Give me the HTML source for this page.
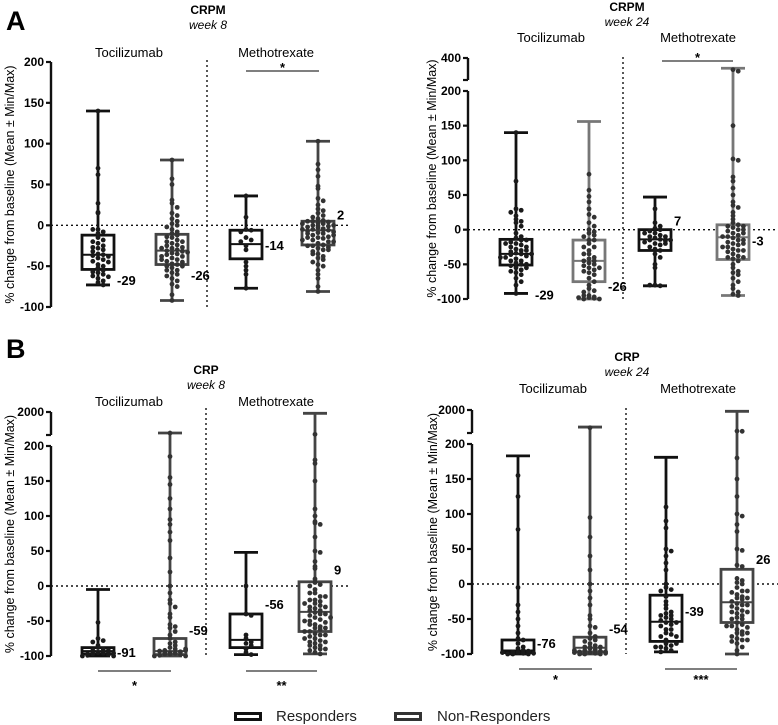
<!DOCTYPE html>
<html><head><meta charset="utf-8"><style>
body{margin:0;background:#fff}
svg{display:block;font-family:"Liberation Sans",sans-serif}
</style></head><body>
<svg id="chart" width="778" height="725" viewBox="0 0 778 725"></svg>
<script>
// ---------- data ----------
const groupNames = ["Responders Tocilizumab","Non-Responders Tocilizumab","Responders Methotrexate","Non-Responders Methotrexate"];
// box stats [min,q1,median,q3,max]
const a1Boxes = [[-73,-54,-36,-12,140],[-92,-48,-31,-11,80],[-77,-41,-23,-6,36],[-81,-24,-6,5,103]];
const a1Means = ["-29","-26","-14","2"];
const a1LabelVals = [-68,-62,-25,12];
const a1Points = [
 [140,70,62,27,16,15,-5,-8,-15,-18,-20,-22,-25,-27,-28,-30,-32,-35,-36,-37,-38,-40,-42,-44,-45,-48,-50,-52,-55,-57,-58,-60,-62,-63,-65,-68,-70,-73,-5,-10],
 [80,57,50,31,27,22,15,12,8,5,2,0,-2,-5,-8,-10,-12,-14,-15,-18,-20,-22,-24,-25,-27,-28,-30,-31,-32,-34,-35,-36,-38,-40,-42,-44,-45,-47,-48,-50,-52,-55,-58,-60,-62,-65,-68,-72,-75,-85,-92,-20,-28,-33,-38,-42,-50,-55],
 [36,10,-5,-6,-8,-15,-18,-20,-25,-30,-45,-50,-55,-60,-77],
 [103,75,68,60,48,45,33,30,25,20,18,15,12,10,8,6,5,4,3,2,0,-1,-2,-3,-4,-5,-6,-7,-8,-9,-10,-12,-14,-15,-16,-18,-20,-22,-24,-25,-27,-28,-30,-32,-35,-38,-40,-42,-45,-48,-50,-55,-60,-65,-75,-81,0,-5,-10,-15,-20,5,2,-3,-8,-12,-18,-25,-30,-35]
];
const a2Boxes = [[-92,-51,-35,-14,140],[-100,-75,-45,-15,156],[-81,-30,-14,0,47],[-95,-43,-11,7,330]];
const a2Means = ["-29","-26","7","-3"];
const a2LabelVals = [-95,-83,12,-17];
const a2Points = [
 [140,70,30,28,25,20,15,12,10,5,-5,-10,-12,-15,-18,-20,-22,-25,-28,-30,-32,-34,-35,-36,-38,-40,-42,-45,-48,-50,-52,-55,-58,-60,-62,-65,-70,-75,-80,-92,-15,-25,-35,-45,-55,-20,-30,-40,-50],
 [80,57,48,40,30,22,18,10,5,0,-3,-5,-8,-10,-15,-20,-25,-30,-35,-40,-42,-45,-48,-50,-52,-55,-58,-60,-62,-65,-70,-75,-80,-85,-88,-90,-95,-97,-98,-99,-100,-100,-98,-95,-45,-55,-35,-25,-15],
 [30,10,5,2,0,-2,-5,-8,-10,-12,-14,-15,-16,-18,-20,-22,-25,-28,-30,-35,-40,-50,-55,-80,-81,-80,-10,-5,-15,-20],
 [320,310,150,102,100,76,70,60,50,40,35,32,25,20,15,10,7,5,3,0,-2,-5,-8,-10,-12,-15,-18,-20,-22,-25,-28,-30,-32,-35,-38,-40,-42,-45,-50,-55,-60,-62,-65,-70,-75,-80,-85,-90,-93,-95,0,-5,-10,-15,-20,-30,-40,5,-25]
];
const b1Boxes = [[-100,-97,-93,-88,-5],[-100,-98,-93,-75,400],[-98,-88,-77,-40,48],[-97,-65,-37,6,1900]];
const b1Means = ["-91","-59","-56","9"];
const b1LabelVals = [-96,-64,-27,22];
const b1Points = [
 [-52,-75,-78,-80,-85,-88,-90,-92,-94,-95,-96,-97,-98,-99,-100,-100,-98,-97,-96,-95,-100,-99],
 [400,185,155,145,125,110,95,88,77,65,40,20,0,-10,-20,-25,-30,-40,-45,-55,-58,-60,-65,-70,-75,-80,-82,-85,-88,-90,-92,-94,-95,-96,-97,-98,-99,-100,-100,-100,-99,-98,-97,-96,-95,-93,-90],
 [0,-40,-42,-70,-75,-80,-82,-85,-90,-95,-98],
 [300,180,175,150,110,100,92,90,88,70,50,48,35,28,25,10,5,2,0,-5,-10,-15,-20,-22,-25,-28,-30,-32,-35,-38,-40,-42,-45,-48,-50,-52,-55,-58,-60,-62,-65,-68,-70,-72,-75,-78,-80,-82,-85,-88,-90,-92,-95,-97,-10,-20,-30,-40,-50,-60,-70,-80,-90,-15,-25,-35,-45,-55,-65,-75,-85]
];
const b2Boxes = [[-100,-98,-95,-80,183],[-100,-97,-91,-76,700],[-97,-82,-54,-16,181],[-100,-55,-26,21,1900]];
const b2Means = ["-76","-54","-39","26"];
const b2LabelVals = [-86,-65,-40,34];
const b2Points = [
 [155,125,78,-5,-30,-40,-50,-60,-70,-78,-80,-85,-90,-92,-95,-97,-98,-99,-100,-100,-100,-99,-98,-96],
 [650,95,67,40,20,0,-10,-20,-30,-45,-50,-60,-62,-70,-75,-78,-80,-82,-85,-88,-90,-92,-94,-95,-96,-97,-98,-99,-100,-100,-100,-99,-98,-97,-95,-93,-90],
 [110,90,80,50,47,40,30,20,0,-5,-8,-10,-18,-25,-30,-35,-40,-42,-45,-48,-50,-52,-55,-58,-60,-65,-70,-72,-75,-80,-85,-88,-90,-92,-95,-97,-45,-55,-65,-75,-85,-90],
 [400,380,180,150,125,100,97,85,75,50,48,27,25,8,5,2,0,-5,-10,-12,-15,-18,-20,-22,-25,-28,-30,-32,-35,-38,-40,-42,-45,-48,-50,-55,-58,-60,-62,-65,-68,-70,-72,-75,-78,-80,-82,-85,-90,-95,-100,-10,-20,-30,-40,-50,-60,-70,-80]
];
const lowerTicks = [-100,-50,0,50,100,150,200];
const a2UpperTicks = ["400"];
const bUpperTicks = ["2000"];

// ---------- drawing ----------
const NS="http://www.w3.org/2000/svg";
const svg=document.getElementById('chart');
function mk(tag,attrs,parent){const e=document.createElementNS(NS,tag);for(const k in attrs)e.setAttribute(k,attrs[k]);(parent||svg).appendChild(e);return e;}
function txt(x,y,s,attrs,parent){const e=mk('text',Object.assign({x:x,y:y},attrs),parent);e.textContent=s;return e;}

function drawPanel(L,boxes,points,means,labelVals,upperLabel,name){
  const g=mk('g',{});
  
  
  const y=v=>{
    if(v<=200) return L.y0+(L.y200-L.y0)*(v+100)/300;
    return L.brkPix+(L.topPix-L.brkPix)*(v-L.brkVal)/(L.topVal-L.brkVal);
  };
  txt(L.tx,L.ty,L.title,{'text-anchor':'middle','font-weight':'bold','font-size':12},g);
  txt(L.tx,L.ty+15,L.week,{'text-anchor':'middle','font-style':'italic','font-size':12},g);
  txt(L.tocX,L.catY,"Tocilizumab",{'text-anchor':'middle','font-size':13},g);
  txt(L.mtxX,L.catY,"Methotrexate",{'text-anchor':'middle','font-size':13},g);
  const ax=mk('g',{},g);
  
  
  mk('line',{x1:L.ax,x2:L.ax,y1:y(-100),y2:y(200),stroke:'#111','stroke-width':2.4},ax);
  lowerTicks.forEach(t=>{
    mk('line',{x1:L.ax-5,x2:L.ax,y1:y(t),y2:y(t),stroke:'#111','stroke-width':2.2},ax);
    txt(L.ax-7,y(t)+4,String(t),{'text-anchor':'end','font-weight':'bold','font-size':12},ax);
  });
  if(upperLabel){
    mk('line',{x1:L.ax,x2:L.ax,y1:L.topPix,y2:L.brkPix,stroke:'#111','stroke-width':2.4},ax);
    mk('line',{x1:L.ax-5,x2:L.ax,y1:L.topPix,y2:L.topPix,stroke:'#111','stroke-width':2.2},ax);
    mk('line',{x1:L.ax-5,x2:L.ax,y1:L.brkPix,y2:L.brkPix,stroke:'#111','stroke-width':2.2},ax);
    txt(L.ax-7,L.topPix+4,upperLabel[0],{'text-anchor':'end','font-weight':'bold','font-size':12},ax);
  }
  const yt=txt(0,0,"% change from baseline (Mean \u00b1 Min/Max)",{'text-anchor':'middle','font-size':12.5,transform:`translate(${L.ylx},${(y(-100)+(upperLabel?L.topPix:y(200)))/2}) rotate(-90)`},g);
  
  mk('line',{x1:L.ax,x2:L.zeroEnd,y1:y(0),y2:y(0),stroke:'#111','stroke-width':1.4,'stroke-dasharray':'2,3'},g);
  mk('line',{x1:L.div,x2:L.div,y1:L.divTop,y2:y(-100),stroke:'#111','stroke-width':1.4,'stroke-dasharray':'2,3'},g);
  boxes.forEach((b,i)=>{
    const cx=L.xs[i], col=i%2===0?'#111':(L.nrCol||'#444');
    const bg=mk('g',{},g);
    
    
    const w=16,c=12;
    mk('line',{x1:cx,x2:cx,y1:y(b[0]),y2:y(b[4]),stroke:col,'stroke-width':2.8},bg);
    mk('line',{x1:cx-c,x2:cx+c,y1:y(b[0]),y2:y(b[0]),stroke:col,'stroke-width':2.8},bg);
    mk('line',{x1:cx-c,x2:cx+c,y1:y(b[4]),y2:y(b[4]),stroke:col,'stroke-width':2.8},bg);
    mk('rect',{x:cx-w,y:y(b[3]),width:2*w,height:y(b[1])-y(b[3]),fill:'#fff',stroke:col,'stroke-width':2.8},bg);
    mk('line',{x1:cx-w,x2:cx+w,y1:y(b[2]),y2:y(b[2]),stroke:col,'stroke-width':2},bg);
    const bins={};
    points[i].forEach(v=>{
      const py=y(v), k=Math.round(py/5);
      const n=bins[k]||0; bins[k]=n+1;
      const m=n%7;
      const off=(m===0?0:(m%2?1:-1)*Math.ceil(m/2)*5.2);
      const p=mk('circle',{cx:cx+off,cy:py-Math.floor(n/7)*2,r:2.4,fill:i%2===0?'#1a1a1a':'#333'},bg);
      
      
    });
    const lb=txt(cx+w+3,y(labelVals[i])+4,means[i],{'font-weight':'bold','font-size':13},bg);
    
  });
  L.sig.forEach(s=>{
    const sg=mk('g',{},g);
    
    
    mk('line',{x1:s[0],x2:s[1],y1:s[2],y2:s[2],stroke:'#333','stroke-width':1.3},sg);
    txt((s[0]+s[1])/2,s[3],s[4],{'text-anchor':'middle','font-weight':'bold','font-size':13},sg);
  });
}

drawPanel({ax:51,y0:307,y200:62,xs:[98,172,246,318],div:207,divTop:60,zeroEnd:350,
  tx:208,ty:14,title:"CRPM",week:"week 8",tocX:129,mtxX:276,catY:57,ylx:14,
  sig:[[246,319,71,72,"*"]]},a1Boxes,a1Points,a1Means,a1LabelVals,null,"panel-a-week8");
drawPanel({ax:468,y0:299,y200:91,topPix:58,brkPix:80,brkVal:250,topVal:400,xs:[516,589,655,733],div:623,divTop:57,zeroEnd:778,
  tx:627,ty:11,title:"CRPM",week:"week 24",tocX:551,mtxX:698,catY:42,ylx:436,nrCol:'#777',
  sig:[[662,733,61,62,"*"]]},a2Boxes,a2Points,a2Means,a2LabelVals,a2UpperTicks,"panel-a-week24");
drawPanel({ax:51,y0:656,y200:446,topPix:412,brkPix:435,brkVal:250,topVal:2000,xs:[98,170,246,315],div:206,divTop:408,zeroEnd:350,
  tx:206,ty:374,title:"CRP",week:"week 8",tocX:129,mtxX:276,catY:406,ylx:14,
  sig:[[98,171,671,690,"*"],[246,317,671,690,"**"]]},b1Boxes,b1Points,b1Means,b1LabelVals,bUpperTicks,"panel-b-week8");
drawPanel({ax:472,y0:654,y200:444,topPix:410,brkPix:433,brkVal:250,topVal:2000,xs:[518,590,666,737],div:626,divTop:408,zeroEnd:778,
  tx:627,ty:361,title:"CRP",week:"week 24",tocX:553,mtxX:698,catY:393,ylx:437,
  sig:[[519,592,669,684,"*"],[665,737,669,684,"***"]]},b2Boxes,b2Points,b2Means,b2LabelVals,bUpperTicks,"panel-b-week24");

const la=txt(6,30,"A",{'font-weight':'bold','font-size':27});


const lbB=txt(6,358,"B",{'font-weight':'bold','font-size':27});



const lg=mk('g',{});


[[234,276,"Responders",'#111'],[394,437,"Non-Responders",'#333']].forEach(e=>{
  const it=mk('g',{},lg);
  
  
  mk('rect',{x:e[0]+1.5,y:713.5,width:25,height:6,fill:'#fff',stroke:e[3],'stroke-width':3},it);
  txt(e[1],721,e[2],{'font-size':15,fill:'#222'},it);
});
</script>
</body></html>
